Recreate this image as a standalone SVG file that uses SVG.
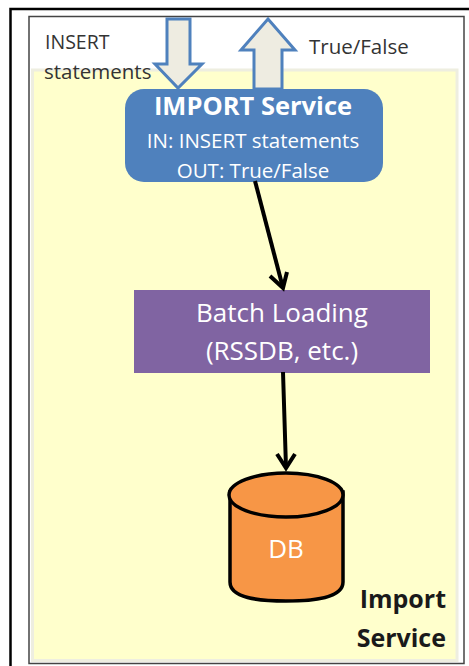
<svg xmlns="http://www.w3.org/2000/svg" width="469" height="666" viewBox="0 0 469 666">
<style>
text{font-family:"Open Sans","Noto Sans","Liberation Sans",sans-serif}
.w{fill:#fff;text-anchor:middle}
.lab{fill:#333;font-size:20.5px}
.arr{fill:#eeece1;stroke:#4f81bd;stroke-width:3}
.con{fill:none;stroke:#000;stroke-width:4}
.head{fill:none;stroke:#000;stroke-width:4}
.k{fill:#1a1a1a;font-size:25px;font-weight:bold;text-anchor:end}
</style>
<rect width="469" height="666" fill="#fff"/>
<rect x="10.5" y="9" width="470" height="670" fill="#fff" stroke="#000" stroke-width="2.5"/>
<rect x="29" y="16.5" width="435" height="647" fill="#fff" stroke="#444" stroke-width="1.5"/>
<rect x="32.5" y="70" width="424.5" height="590.5" fill="#ffffcc" stroke="#eeeee0" stroke-width="3"/>
<g id="insert-label"><text class="lab" x="45" y="49" style="font-size:19.5px">INSERT</text><text class="lab" x="44" y="79">statements</text></g>
<g id="truefalse-label"><text class="lab" x="309" y="54">True/False</text></g>
<g id="in-arrow"><path class="arr" d="M167 19H190V64H202L178 88L155 64H167Z"/></g>
<g id="out-arrow"><path class="arr" d="M268 19L295 50H282V89H254V50H241Z"/></g>
<g id="import-service"><rect x="125" y="89" width="258" height="93" rx="19" fill="#4f81bd"/>
<text class="w" x="253" y="115" font-size="25.5" font-weight="bold">IMPORT Service</text>
<text class="w" x="253" y="148" font-size="20.5">IN: INSERT statements</text>
<text class="w" x="253" y="178" font-size="20.5">OUT: True/False</text></g>
<g id="batch-loading"><rect x="134" y="290" width="296" height="83" fill="#8064a2"/>
<text class="w" x="282" y="322" font-size="26">Batch Loading</text>
<text class="w" x="282" y="360" font-size="26">(RSSDB, etc.)</text></g>
<g id="db"><path d="M230 492V582C230 598 258 601 286 601C314 601 343 598 343 582V492Z" fill="#f79646" stroke="#000" stroke-width="3.5"/>
<ellipse cx="286" cy="495" rx="57" ry="22" fill="#f79646" stroke="#000" stroke-width="3.5"/>
<text class="w" x="286" y="558" font-size="26">DB</text></g>
<g id="service-label"><text class="k" x="446" y="608">Import</text><text class="k" x="446" y="647">Service</text></g>
<g id="connectors">
<path class="con" d="M255 181L283 288"/><path class="head" d="M270 276L283 288L287 272"/>
<path class="con" d="M283 372L286 468"/><path class="head" d="M277 454L286 468L295 454"/>
</g>
</svg>
